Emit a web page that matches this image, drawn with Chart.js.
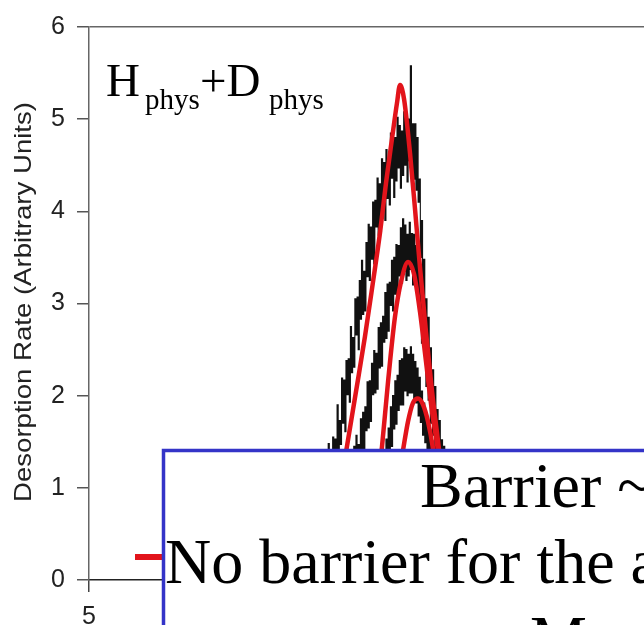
<!DOCTYPE html>
<html>
<head>
<meta charset="utf-8">
<script src="https://cdn.jsdelivr.net/npm/chart.js@4.4.0/dist/chart.umd.min.js"></script>
<style>
  html, body { margin: 0; padding: 0; background: #fff; overflow: hidden; }
  #wrap { position: relative; width: 644px; height: 625px; }
  #tpd { position: absolute; left: 0; top: 0; }
  #notes { position: absolute; left: 0; top: 0; pointer-events: none; }
</style>
</head>
<body>
<div id="wrap">
  <canvas id="tpd" width="644" height="625"></canvas>
  <svg id="notes" width="644" height="625" xmlns="http://www.w3.org/2000/svg">
    <text transform="translate(31,302) rotate(-90)" text-anchor="middle"
          font-family="'Liberation Sans', Arial, sans-serif" font-size="24" fill="#222"
          textLength="400" lengthAdjust="spacingAndGlyphs">Desorption Rate (Arbitrary Units)</text>
    <text y="96" font-family="'Liberation Serif', 'Times New Roman', serif" font-size="47" fill="#000">
      <tspan x="106">H</tspan><tspan x="145" y="109" font-size="29">phys</tspan><tspan x="200" y="96">+D</tspan><tspan x="269" y="109" font-size="29">phys</tspan>
    </text>
    <rect x="135" y="554" width="28" height="6" fill="#e2141b"/>
    <rect x="163.5" y="450.5" width="600" height="300" fill="#fff" stroke="#3434c8" stroke-width="3.5"/>
    <g font-family="'Liberation Serif', 'Times New Roman', serif" font-size="64" fill="#000">
      <text x="420" y="507">Barrier ~</text>
      <text x="165" y="583">No barrier for the a</text>
      <text x="530" y="660">M</text>
    </g>
  </svg>
</div>
<script>
// temperature samples of the desorption traces (K)
const temps = [15.00, 15.05, 15.10, 15.15, 15.20, 15.25, 15.30, 15.35, 15.40, 15.45,
    15.50, 15.55, 15.60, 15.65, 15.70, 15.75, 15.80, 15.85, 15.90, 15.95,
    16.00, 16.05, 16.10, 16.15, 16.20, 16.25, 16.30, 16.35, 16.40, 16.45,
    16.50, 16.55, 16.60, 16.65, 16.70, 16.75, 16.80, 16.85, 16.90, 16.95,
    17.00, 17.05, 17.10, 17.15, 17.20, 17.25, 17.30, 17.35, 17.40, 17.45,
    17.50, 17.55, 17.60, 17.65, 17.70, 17.75, 17.80, 17.85, 17.90, 17.95,
    18.00, 18.05, 18.10, 18.15, 18.20, 18.25, 18.30, 18.35, 18.40, 18.45,
    18.50, 18.55, 18.60, 18.65, 18.70, 18.75, 18.80, 18.85, 18.90, 18.95,
    19.00, 19.05, 19.10, 19.15, 19.20, 19.25, 19.30, 19.35, 19.40, 19.45,
    19.50, 19.55, 19.60, 19.65, 19.70, 19.75, 19.80, 19.85, 19.90, 19.95,
    20.00, 20.05, 20.10, 20.15, 20.20, 20.25, 20.30, 20.35, 20.40, 20.45,
    20.50, 20.55, 20.60, 20.65, 20.70, 20.75, 20.80, 20.85, 20.90, 20.95,
    21.00, 21.05, 21.10, 21.15, 21.20, 21.25, 21.30, 21.35, 21.40, 21.45,
    21.50, 21.55, 21.60];

// measured desorption rates, three coverages
const rate1 = [0.70, 0.33, 0.90, 0.55, 0.75, 0.44, 1.13, 0.68, 1.07, 0.56,
    1.20, 0.93, 1.39, 0.76, 1.19, 0.90, 1.48, 0.84, 1.41, 1.12,
    1.55, 0.96, 1.53, 1.23, 1.90, 1.28, 1.73, 1.47, 2.19, 1.70,
    2.17, 1.61, 2.38, 2.01, 2.40, 1.93, 2.75, 2.25, 2.63, 2.31,
    3.05, 2.66, 3.07, 2.50, 3.25, 2.83, 3.47, 2.88, 3.35, 2.92,
    3.66, 3.29, 3.86, 3.25, 3.83, 3.48, 4.10, 3.43, 4.12, 3.83,
    4.36, 3.74, 4.30, 3.78, 4.57, 4.06, 4.53, 3.90, 4.67, 4.14,
    4.55, 4.07, 4.85, 4.36, 4.80, 4.15, 4.80, 4.33, 5.02, 4.47,
    4.93, 4.25, 4.87, 4.39, 5.08, 4.50, 4.95, 4.32, 5.00, 4.55,
    5.58, 4.32, 4.95, 4.35, 4.95, 4.23, 4.80, 4.10, 4.35, 3.50,
    3.90, 3.10, 3.48, 2.68, 3.05, 2.33, 2.85, 2.20, 2.52, 1.80,
    2.28, 1.70, 2.10, 1.40, 1.85, 1.33, 1.73, 1.13, 1.52, 1.08,
    1.45, 0.85, 1.20, 0.70, 0.95, 0.47, 0.70, 0.36, 0.50, 0.25,
    0.38, 0.19, 0.25];
const rate2 = [0.13, 0.47, 0.13, 0.55, 0.26, 0.51, 0.14, 0.64, 0.27, 0.61,
    0.15, 0.57, 0.36, 0.76, 0.26, 0.62, 0.34, 0.82, 0.44, 0.83,
    0.32, 0.81, 0.61, 0.99, 0.52, 0.97, 0.53, 0.91, 0.66, 1.19,
    0.78, 1.18, 0.68, 1.14, 0.82, 1.35, 0.98, 1.33, 0.84, 1.45,
    1.05, 1.57, 1.08, 1.47, 1.12, 1.75, 1.40, 1.82, 1.33, 1.88,
    1.62, 2.15, 1.65, 2.16, 1.72, 2.35, 2.01, 2.49, 2.03, 2.46,
    2.07, 2.74, 2.30, 2.79, 2.32, 2.86, 2.58, 3.12, 2.62, 3.21,
    2.70, 3.23, 2.98, 3.47, 2.92, 3.50, 3.10, 3.64, 3.08, 3.63,
    3.30, 3.82, 3.22, 3.92, 3.35, 3.85, 3.25, 3.75, 3.30, 3.88,
    3.37, 3.76, 3.20, 3.75, 3.20, 3.63, 3.05, 3.50, 2.92, 3.23,
    2.57, 3.03, 2.45, 2.76, 2.10, 2.50, 1.95, 2.33, 1.70, 2.07,
    1.57, 1.90, 1.33, 1.67, 1.23, 1.51, 1.00, 1.29, 0.90, 1.09,
    0.70, 0.90, 0.60, 0.75, 0.45, 0.57, 0.34, 0.42, 0.24, 0.31,
    0.17, 0.23, 0.12];
const rate3 = [0.18, 0.01, 0.23, 0.07, 0.27, 0.05, 0.23, 0.02, 0.32, 0.09,
    0.27, 0.06, 0.36, 0.09, 0.31, 0.06, 0.36, 0.14, 0.34, 0.08,
    0.40, 0.11, 0.37, 0.09, 0.41, 0.16, 0.47, 0.14, 0.41, 0.12,
    0.48, 0.21, 0.51, 0.16, 0.49, 0.22, 0.54, 0.18, 0.54, 0.23,
    0.57, 0.22, 0.58, 0.30, 0.66, 0.28, 0.62, 0.26, 0.69, 0.39,
    0.75, 0.35, 0.78, 0.47, 0.87, 0.45, 0.90, 0.56, 0.99, 0.57,
    1.02, 0.67, 1.15, 0.73, 1.28, 0.90, 1.35, 0.96, 1.53, 1.15,
    1.65, 1.29, 1.88, 1.45, 2.00, 1.64, 2.16, 1.69, 2.22, 1.84,
    2.38, 1.90, 2.40, 1.90, 2.52, 2.05, 2.50, 2.00, 2.45, 2.03,
    2.53, 2.03, 2.45, 1.93, 2.37, 1.92, 2.30, 1.78, 2.20, 1.71,
    2.05, 1.57, 1.92, 1.49, 1.78, 1.32, 1.67, 1.24, 1.53, 1.09,
    1.38, 1.00, 1.25, 0.93, 1.15, 0.83, 1.02, 0.75, 0.92, 0.65,
    0.80, 0.55, 0.70, 0.47, 0.58, 0.37, 0.46, 0.31, 0.38, 0.24,
    0.30, 0.19, 0.24];

// model fits (no barrier)
const fitTempA = [15.63, 16.13, 16.62, 17.03, 17.43, 17.79, 18.11, 18.38, 18.65, 18.87,
    19.01, 19.19, 19.46, 19.68, 19.91, 20.18, 20.45, 20.72, 21.08, 21.44];
const fitRateA = [0, 0.75, 1.45, 2.05, 2.64, 3.23, 3.77, 4.31, 4.79, 5.17,
    5.37, 5.22, 4.63, 4.04, 3.39, 2.69, 2.05, 1.51, 0.75, 0];
const fitTempB = [17.57, 17.84, 18.2, 18.47, 18.78, 19.05, 19.37, 19.64, 19.91, 20.18,
    20.45, 20.72, 21.04, 21.26];
const fitRateB = [0, 0.65, 1.45, 2.15, 2.85, 3.23, 3.45, 3.32, 2.91, 2.37,
    1.83, 1.40, 0.65, 0];
const fitTempC = [18.65, 18.92, 19.14, 19.37, 19.59, 19.82, 20.05, 20.27, 20.5, 20.68, 20.95];
const fitRateC = [0, 1.08, 1.40, 1.72, 1.92, 1.97, 1.90, 1.72, 1.42, 1.08, 0];

const xRange = [5, 30];
const xTicks = [5, 10, 15, 20, 25];
const yTicks = [0, 1, 2, 3, 4, 5, 6];

function pairs(xs, ys) {
    return xs.map((x, i) => ({ x: x, y: ys[i] }));
}

function trace(ys) {
    return {
        data: pairs(temps, ys),
        borderColor: '#111',
        borderWidth: 1.1,
        pointRadius: 0,
        stepped: 'middle',
        order: 2
    };
}

function fit(xs, ys) {
    return {
        data: pairs(xs, ys),
        borderColor: '#e2141b',
        borderWidth: 4.5,
        pointRadius: 0,
        cubicInterpolationMode: 'monotone',
        order: 1
    };
}

const tickFont = { family: "'Liberation Sans', Arial, sans-serif", size: 25 };

var ctx = document.getElementById('tpd').getContext('2d');
var tpdChart = new Chart(ctx, {
    type: 'scatter',
    data: {
        datasets: [
            trace(rate1),
            trace(rate2),
            trace(rate3),
            fit(fitTempA, fitRateA),
            fit(fitTempB, fitRateB),
            fit(fitTempC, fitRateC)
        ].map(d => Object.assign(d, { showLine: true }))
    },
    options: {
        responsive: false,
        animation: false,
        layout: { padding: { top: 23, right: 0, left: 0, bottom: 0 }, autoPadding: false },
        plugins: { legend: { display: false }, tooltip: { enabled: false } },
        scales: {
            x: {
                type: 'linear',
                min: xRange[0],
                max: xRange[1],
                afterBuildTicks: s => { s.ticks = xTicks.map(v => ({ value: v })); },
                afterFit: s => { s.height = 45; },
                ticks: { font: tickFont, color: '#222', padding: 10, maxRotation: 0 },
                grid: { drawOnChartArea: false, tickLength: 12, tickColor: '#444', lineWidth: 1.5 },
                border: { color: '#222', width: 1.5 }
            },
            y: {
                min: yTicks[0],
                max: yTicks[yTicks.length - 1],
                afterBuildTicks: s => { s.ticks = yTicks.map(v => ({ value: v })); },
                afterFit: s => { s.width = 89; },
                ticks: { font: tickFont, color: '#222', padding: 12 },
                grid: {
                    color: c => (c.tick && c.tick.value === 6) ? '#666' : 'transparent',
                    tickColor: '#555',
                    tickLength: 12,
                    lineWidth: 1.5
                },
                border: { color: '#666', width: 1.5 }
            }
        }
    }
});
</script>
</body>
</html>
